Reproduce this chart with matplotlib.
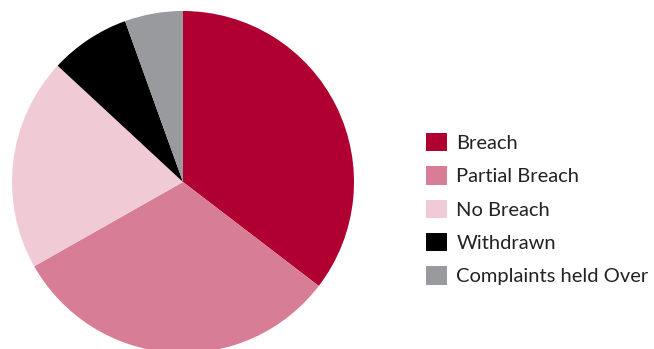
import matplotlib.pyplot as plt

# Outcome of complaints, share of total
labels = ["Breach", "Partial Breach", "No Breach", "Withdrawn", "Complaints held Over"]
values = [35.4, 31.4, 20.1, 7.6, 5.5]
colors = ["#B00032", "#D77E96", "#F0CAD4", "#000000", "#999A9E"]

W, H = 654, 349
fig = plt.figure(figsize=(W / 100, H / 100), dpi=100)

# pie centred at (183, 182) px with radius 171 px
cx, cy, r = 183, 182, 171
ax = fig.add_axes([(cx - r) / W, (H - cy - r) / H, 2 * r / W, 2 * r / H])
wedges, _ = ax.pie(values, colors=colors, startangle=90, counterclock=False,
                   radius=1, wedgeprops=dict(linewidth=0))
ax.set_xlim(-1, 1)
ax.set_ylim(-1, 1)
ax.set_aspect("equal")
ax.axis("off")

leg = fig.legend(wedges, labels, loc="upper left",
                 bbox_to_anchor=(426 / W, 1 - 133 / H),
                 frameon=False,
                 prop={"family": "Lato", "size": 14.5},
                 handlelength=1.02, handleheight=1.02, handletextpad=0.48,
                 labelspacing=0.71, borderpad=0, borderaxespad=0)
for t in leg.get_texts():
    t.set_color("#222222")

fig.savefig("out.png", dpi=100)
